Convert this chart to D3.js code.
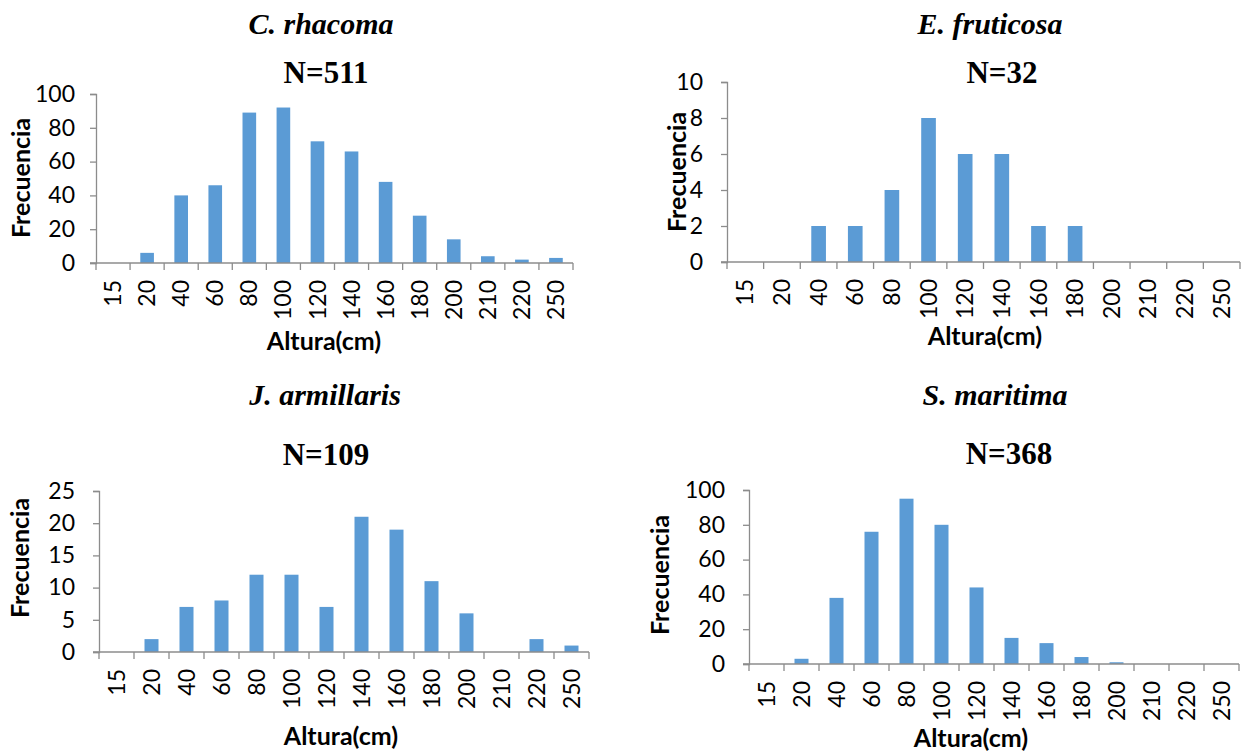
<!DOCTYPE html>
<html>
<head>
<meta charset="utf-8">
<script src="https://cdn.jsdelivr.net/npm/d3@7"></script>
<style>
  html, body { margin: 0; padding: 0; background: #fff; }
  svg { display: block; }
  .tick-label { font-family: Lato, "Open Sans", sans-serif; font-size: 23px; fill: #000; }
  .axis-title { font-family: Lato, "Open Sans", sans-serif; font-size: 25px; font-weight: bold; fill: #000; }
  .sp-title { font-family: "Liberation Serif", "DejaVu Serif", serif; font-size: 30px; font-weight: bold; font-style: italic; }
  .n-title { font-family: "Liberation Serif", "DejaVu Serif", serif; font-size: 31px; font-weight: bold; }
</style>
</head>
<body>
<div id="chart"></div>
<script>
// categorias de altura (cm)
const categories = ["15", "20", "40", "60", "80", "100", "120", "140", "160", "180", "200", "210", "220", "250"];

// frecuencias
const rhacomaValues   = [0, 6, 40, 46, 89, 92, 72, 66, 48, 28, 14, 4, 2, 3];
const fruticosaValues = [0, 0, 2, 2, 4, 8, 6, 6, 2, 2, 0, 0, 0, 0];
const armillarisValues = [0, 2, 7, 8, 12, 12, 7, 21, 19, 11, 6, 0, 2, 1];
const maritimaValues  = [0, 3, 38, 76, 95, 80, 44, 15, 12, 4, 1, 0, 0, 0];

const rhacomaTicks   = [0, 20, 40, 60, 80, 100];
const fruticosaTicks = [0, 2, 4, 6, 8, 10];
const armillarisTicks = [0, 5, 10, 15, 20, 25];
const maritimaTicks  = [0, 20, 40, 60, 80, 100];

const species = ["C. rhacoma", "E. fruticosa", "J. armillaris", "S. maritima"];
const nLabels = ["N=511", "N=32", "N=109", "N=368"];

const W = 1242, H = 751;
const barColor = "#5b9bd5";
const axisColor = "#8c8c8c";

// layout de cada panel
const panels = [
  { values: rhacomaValues, ticks: rhacomaTicks, x0: 96, x1: 573, yTop: 94, yBot: 263, pad: 15,
    title: [321, 34], n: [326, 83], yTitle: [21, 178], xTitle: [324, 350] },
  { values: fruticosaValues, ticks: fruticosaTicks, x0: 727, x1: 1240, yTop: 82, yBot: 262, pad: 18,
    title: [990, 34], n: [1002, 83], yTitle: [677, 172], xTitle: [985, 345] },
  { values: armillarisValues, ticks: armillarisTicks, x0: 99, x1: 589, yTop: 491, yBot: 652, pad: 18,
    title: [325, 405], n: [326, 465], yTitle: [20, 558], xTitle: [341, 745] },
  { values: maritimaValues, ticks: maritimaTicks, x0: 749, x1: 1239, yTop: 490, yBot: 664, pad: 18,
    title: [995, 405], n: [1009, 464], yTitle: [660, 575], xTitle: [971, 747] }
];

const svg = d3.select("#chart").append("svg")
  .attr("width", W)
  .attr("height", H);

panels.forEach((p, i) => {
  const g = svg.append("g");

  const x = d3.scaleBand().domain(categories).range([p.x0, p.x1]).padding(0);
  const y = d3.scaleLinear().domain([0, d3.max(p.ticks)]).range([p.yBot, p.yTop]);
  const bw = x.bandwidth();

  // barras (gap 150% -> ancho 40%)
  g.selectAll(".bar")
    .data(p.values)
    .enter()
    .append("rect")
    .attr("class", "bar")
    .attr("x", (d, j) => x(categories[j]) + bw * 0.3)
    .attr("width", bw * 0.4)
    .attr("y", d => y(d))
    .attr("height", d => y(0) - y(d))
    .attr("fill", barColor);

  // eje Y
  const yAxis = g.append("g")
    .attr("transform", `translate(${p.x0},0)`)
    .call(d3.axisLeft(y).tickValues(p.ticks).tickSize(6).tickPadding(p.pad));
  yAxis.select(".domain").attr("stroke", axisColor).attr("stroke-width", 1.3);
  yAxis.selectAll(".tick line").attr("stroke", axisColor).attr("stroke-width", 1.3);
  yAxis.selectAll(".tick text").attr("class", "tick-label").attr("font-family", null).attr("font-size", null);

  // eje X: marcas entre categorias
  const bounds = categories.map(c => x(c)).concat([x.range()[1]]);
  g.append("line")
    .attr("x1", p.x0 - 6).attr("x2", p.x1)
    .attr("y1", y(0)).attr("y2", y(0))
    .attr("stroke", axisColor).attr("stroke-width", 1.3);
  g.selectAll(".xtick")
    .data(bounds)
    .enter()
    .append("line")
    .attr("x1", d => d).attr("x2", d => d)
    .attr("y1", y(0)).attr("y2", y(0) + 7)
    .attr("stroke", axisColor).attr("stroke-width", 1.3);

  g.selectAll(".xlabel")
    .data(categories)
    .enter()
    .append("text")
    .attr("class", "tick-label")
    .attr("text-anchor", "end")
    .attr("dy", "0.35em")
    .attr("transform", d => `translate(${x(d) + bw / 2},${y(0) + 17}) rotate(-90)`)
    .text(d => d);

  // titulos
  g.append("text")
    .attr("class", "axis-title")
    .attr("text-anchor", "middle")
    .attr("transform", `translate(${p.yTitle[0] + 9},${p.yTitle[1]}) rotate(-90)`)
    .text("Frecuencia");

  g.append("text")
    .attr("class", "axis-title")
    .attr("text-anchor", "middle")
    .attr("x", p.xTitle[0])
    .attr("y", p.xTitle[1])
    .text("Altura(cm)");

  g.append("text")
    .attr("class", "sp-title")
    .attr("text-anchor", "middle")
    .attr("x", p.title[0])
    .attr("y", p.title[1])
    .text(species[i]);

  g.append("text")
    .attr("class", "n-title")
    .attr("text-anchor", "middle")
    .attr("x", p.n[0])
    .attr("y", p.n[1])
    .text(nLabels[i]);
});
</script>
</body>
</html>
